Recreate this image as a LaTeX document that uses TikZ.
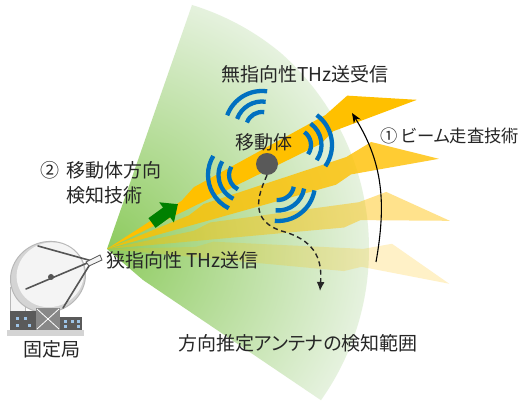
\documentclass[tikz,border=0pt]{standalone}
\usepackage{fontspec}
\setmainfont{Noto Sans CJK JP}[RawFeature=+palt]
\usetikzlibrary{arrows.meta}

\definecolor{fanin}{HTML}{8DCB5E}
\definecolor{fanout}{HTML}{E6F2DF}
\definecolor{beamc}{HTML}{FFC000}
\definecolor{wavec}{HTML}{0070C0}
\definecolor{txt}{HTML}{262626}
\definecolor{mobc}{HTML}{595959}
\definecolor{arrowg}{HTML}{008000}
\definecolor{dishfill}{HTML}{F4F4F4}
\definecolor{dishrim}{HTML}{D4D4D4}
\definecolor{dishline}{HTML}{B8B8B8}
\definecolor{armc}{HTML}{555555}
\definecolor{bldg}{HTML}{5A5A5A}
\definecolor{winc}{HTML}{9DC3E6}

\tikzset{
  lbl/.style={text=txt, inner sep=0pt, font=\fontsize{19pt}{23pt}\selectfont},
  wavearc/.style={draw=wavec, line width=4.3pt},
  arm/.style={draw=armc, line width=1.6pt, line cap=round},
}

\begin{document}
\begin{tikzpicture}[x=1pt,y=1pt]
\useasboundingbox (0,0) rectangle (528,403);
\fill[white] (0,0) rectangle (528,403);

\coordinate (apex) at (107,154);

% detection range of the direction-finding antenna
\begin{scope}
  \clip (apex) -- (192,398) arc[start angle=73, end angle=-36.4, radius=256pt] -- (143,123) -- cycle;
  \shade[inner color=fanin, outer color=fanout] (apex) circle[radius=262pt];
\end{scope}

% scanned narrow beams
\foreach \ang/\op in {-5.8/0.22, 4.7/0.45, 15.2/0.8, 25.7/1}{
  \fill[beamc, fill opacity=\op, shift={(apex)}, rotate=\ang]
    (0,0) -- (88,11) -- (105,18) -- (255,26) -- (283,34) -- (344,0) -- (255,8) -- (238,2) -- cycle;
}

% direction detection arrow
\fill[arrowg, shift={(152,180)}, rotate=36]
  (0,-6) -- (18,-6) -- (18,-12.5) -- (32,0) -- (18,12.5) -- (18,6) -- (0,6) -- cycle;

% omnidirectional radio waves
\foreach \cx/\cy/\sa/\ea in {262/275/82/160, 295/258/-35/54, 245/228/149/244, 278/219/-95/-10}{
  \foreach \rad in {16,26.5,37}{
    \draw[wavearc] ([shift={(\cx,\cy)}]\sa:\rad pt) arc[start angle=\sa, end angle=\ea, radius=\rad pt];
  }
}

% mobile body
\node[circle, fill=mobc, minimum size=22pt, inner sep=0pt] (mob) at (267,239) {};

% movement path
\coordinate (pathend) at (320,112);
\draw[txt, line width=1.4pt, dash pattern=on 5pt off 3.5pt, -{Latex[length=9pt,width=8pt]}]
  (mob.south) .. controls (258,208) and (248,181) .. (285,171)
  .. controls (318,161) and (322,140) .. (pathend);

% beam scanning arrow
\coordinate (scanA) at (376,141);
\coordinate (scanB) at (352,290);
\draw[black, line width=1.1pt, -{Stealth[length=10pt,width=8pt]}] (scanA) to[out=80,in=-58] (scanB);

% labels
\node[lbl] (omni) at (305,329) {無指向性THz送受信};
\node[lbl] (moblbl) at (264,261) {移動体};
\node[lbl, anchor=west, font=\fontsize{17.3pt}{21pt}\selectfont] (scanlbl) at (380,267) {① ビーム走査技術};
\node[lbl, anchor=west] (dirnum) at (40,233) {②};
\node[lbl, anchor=west] (dirl1) at (66,233) {移動体方向};
\node[lbl, anchor=west] (dirl2) at (66,208) {検知技術};
\node[lbl, anchor=west] (narrow) at (106,143) {狭指向性 THz送信};
\node[lbl] (range) at (298,60) {方向推定アンテナの検知範囲};
\node[lbl] (station) at (52,54) {固定局};

% fixed station: pedestal
\filldraw[fill=dishfill, draw=dishline, line width=0.8pt] (10,88) rectangle (25,116);
% dish
\begin{scope}[rotate around={25:(48,126)}]
  \filldraw[fill=dishrim, draw=dishline, line width=1pt] (48,126) ellipse[x radius=38pt, y radius=35pt];
  \fill[dishfill] (51,127) ellipse[x radius=34pt, y radius=32pt];
\end{scope}
% feed arms
\coordinate (feed) at (92,142);
\draw[arm] (38,157) -- (feed);
\draw[arm] (26,114) -- (feed);
\draw[arm] (63,95) -- (feed);
\fill[armc] (51,126) circle[radius=3pt];
\filldraw[fill=dishfill, draw=armc, line width=0.8pt] (86,141) -- (100,148) -- (102,143) -- (89,137) -- cycle;
% building
\fill[dishrim] (7,67) rectangle (84,73);
\fill[bldg] (10,73) rectangle (36,92);
\fill[armc!70] (36,73) rectangle (60,95);
\draw[white, line width=0.8pt] (37,74) -- (59,94) (37,94) -- (59,74);
\fill[bldg] (60,73) rectangle (82,86);
\foreach \wx/\wy in {16/83, 24/83, 16/76, 28/76, 64/80, 71/80, 77/80, 64/75, 77/75}{
  \fill[winc] (\wx,\wy) rectangle ++(3,3);
}
\end{tikzpicture}
\end{document}
